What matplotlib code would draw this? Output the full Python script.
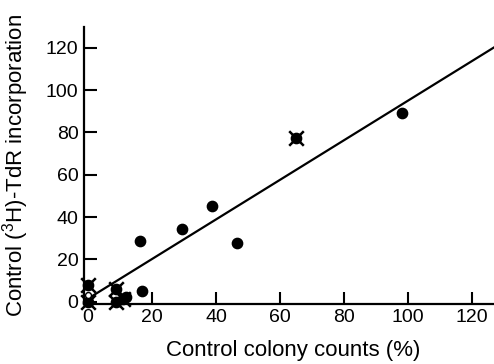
import matplotlib
matplotlib.use("Agg")
import matplotlib.pyplot as plt
import numpy as np

plt.rcParams['font.family'] = ['Liberation Sans', 'DejaVu Sans']
plt.rcParams['mathtext.fontset'] = 'custom'
plt.rcParams['mathtext.rm'] = 'Liberation Sans'

# filled circles
circle_x = [16.3, 29.4, 38.8, 46.6, 98.0, 16.8, 12.0]
circle_y = [28.7, 34.4, 45.2, 27.8, 89.4, 5.0, 2.2]

# circles crossed by an X
cross_x = [65.0, 0.0, 0.0, 8.8, 8.8, 11.0]
cross_y = [77.5, 8.0, 0.0, 6.0, 0.0, 1.5]

# open circle at the origin cluster
open_x = [0.0]
open_y = [3.0]

# regression line
slope = 0.935
intercept = 1.5
fit_x = np.array([0, 135])

ticks = [0, 20, 40, 60, 80, 100, 120]

fig = plt.figure(figsize=(4.94, 3.64), dpi=100)
ax = fig.add_axes([0.170, 0.165, 0.830, 0.762])

ax.plot(fit_x, slope * fit_x + intercept, color='black', lw=1.6, zorder=2, clip_on=True)

ax.scatter(circle_x, circle_y, s=55, color='black', zorder=3, clip_on=False)
ax.scatter(cross_x, cross_y, s=55, color='black', zorder=3, clip_on=False)
ax.scatter(cross_x, cross_y, s=110, marker='x', color='black', linewidths=1.8,
           zorder=3, clip_on=False)
ax.scatter(open_x, open_y, s=18, color='white', edgecolor='black', zorder=4, clip_on=False)

ax.set_xlim(-1.25, 126.9)
ax.set_ylim(-1, 130)
ax.set_xticks(ticks)
ax.set_yticks(ticks)

for side in ['top', 'right']:
    ax.spines[side].set_visible(False)
for side in ['left', 'bottom']:
    ax.spines[side].set_linewidth(1.6)

ax.tick_params(axis='both', direction='in', length=9, width=1.5, labelsize=14)
ax.tick_params(axis='x', pad=4)
ax.tick_params(axis='y', pad=4)

ax.set_xlabel('Control colony counts (%)', fontsize=16)
ax.set_ylabel(r'Control ($^{3}$H)-TdR incorporation', fontsize=16)
ax.xaxis.set_label_coords(0.51, -0.13)
ax.yaxis.set_label_coords(-0.13, 0.50)

fig.savefig('out.png', dpi=100)
